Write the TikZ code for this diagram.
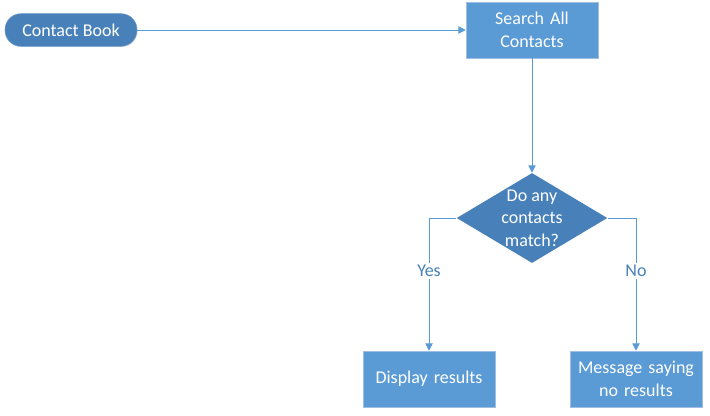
\documentclass[tikz,border=0pt]{standalone}
\usepackage{fontspec}
\setmainfont{Carlito}
\usetikzlibrary{shapes.geometric, arrows.meta, positioning, calc, shadows}
\definecolor{pillBlue}{RGB}{72, 129, 186}
\definecolor{boxBlue}{RGB}{91, 155, 213}
\definecolor{edgeBlue}{RGB}{160, 190, 225}
\definecolor{lineBlue}{RGB}{91, 155, 213}

\begin{document}
\begin{tikzpicture}[
    x=0.75pt, y=-0.75pt,
    terminal/.style={rectangle, rounded corners=12pt, draw=pillBlue!80!white, fill=pillBlue, text=white, minimum width=99pt, minimum height=24.5pt, font=\fontsize{13.5}{17}\selectfont, drop shadow={opacity=0.15, shadow xshift=0.6pt, shadow yshift=-0.6pt}},
    process/.style={rectangle, draw=edgeBlue, fill=boxBlue, text=white, minimum width=99pt, minimum height=42pt, text width=96pt, align=center, inner sep=1pt, font=\fontsize{13.5}{17}\selectfont, drop shadow={opacity=0.15, shadow xshift=0.6pt, shadow yshift=-0.6pt}},
    decision/.style={diamond, fill=pillBlue, text=white, minimum width=113pt, minimum height=67.5pt, aspect=1.68, inner sep=-3pt, align=center, font=\fontsize{13.5}{17}\selectfont},
    flow/.style={-{Triangle[length=5.5pt, width=5.5pt]}, lineBlue, line width=0.7pt},
    answer/.style={fill=white, text=pillBlue, font=\fontsize{13.5}{16}\selectfont, inner sep=1.5pt}
]
    \useasboundingbox (0,0) rectangle (710,415);

    % Start and search
    \node[terminal] (book) at (71,30) {Contact Book};
    \node[process] (search) at (532,30) {Search All\\Contacts};

    % Decision
    \node[decision] (match) at (532,218) {Do any\\contacts\\match?};

    % Outcomes
    \node[process] (display) at (429,379) {Display results};
    \node[process] (nores) at (636,379) {Message saying\\no results};

    % Connectors
    \draw[flow] (book.east) -- (search.west);
    \draw[flow] (search.south) -- (match.north);
    \draw[flow] (match.west) -| node[pos=0.7, answer] {Yes} (display.north);
    \draw[flow] (match.east) -| node[pos=0.7, answer] {No} (nores.north);
\end{tikzpicture}
\end{document}
